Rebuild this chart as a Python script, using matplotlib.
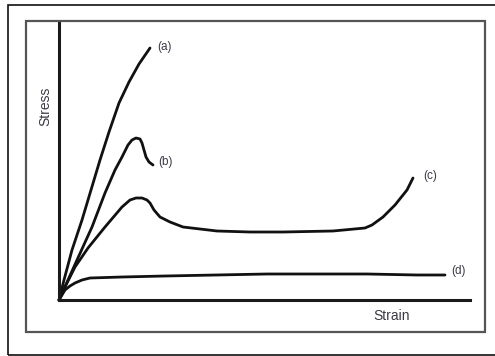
import matplotlib
matplotlib.use("Agg")
import matplotlib.pyplot as plt
from matplotlib.patches import Rectangle

W, H = 495, 356

# Curve data (strain, stress) in arbitrary units
a_x = [0, 5, 13, 23, 32, 41, 50, 60, 70, 80, 91]
a_y = [0, 20, 50, 80, 110, 140, 168, 197, 218, 236, 252]

b_x = [0, 18, 33, 46, 56, 63, 69, 73, 77, 81, 83, 85, 87, 90, 94]
b_y = [0, 40, 73, 107, 130, 143, 155, 160, 162, 161, 157, 150, 143, 138, 135]

c_x = [0, 6, 16, 29, 46, 63, 71, 77, 83, 88, 91, 95, 101, 111, 124, 141, 158, 191,
       224, 274, 306, 313, 324, 336, 348, 354]
c_y = [0, 13, 33, 52, 73, 93, 100, 102, 102, 100, 97, 90, 83, 78, 73, 71, 69, 68,
       68, 69, 72, 75, 83, 95, 110, 122]

d_x = [0, 6, 11, 16, 23, 31, 63, 106, 208, 308, 358, 386]
d_y = [0, 10, 14, 17, 20, 22, 23, 24, 26, 26, 25, 25]

labels = ["(a)", "(b)", "(c)", "(d)"]
label_x = [98, 99, 364, 392]
label_y = [253, 138, 124, 29]

FONT = ["Liberation Sans", "DejaVu Sans"]
TXT = "#3a3a48"

fig = plt.figure(figsize=(W / 100, H / 100), dpi=100)

def px(x, y):
    return x / W, 1 - y / H

# outer frame
fig.patches.append(Rectangle(px(8, 355), (W - 8 + 5) / W, 350 / H, transform=fig.transFigure,
                             fill=False, edgecolor="#111111", linewidth=1.2))
# inner frame
fig.patches.append(Rectangle(px(26, 332), (485 - 26) / W, (332 - 21) / H, transform=fig.transFigure,
                             fill=False, edgecolor="#555555", linewidth=1.6))

ax = fig.add_axes([59 / W, 1 - 300 / H, 411 / W, 278 / H])
ax.set_xlim(0, 411)
ax.set_ylim(0, 278)
ax.patch.set_alpha(0)
for s in ["top", "right"]:
    ax.spines[s].set_visible(False)
for s in ["left", "bottom"]:
    ax.spines[s].set_linewidth(2.2)
    ax.spines[s].set_color("#1a1a1a")
ax.set_xticks([])
ax.set_yticks([])

for xs, ys in [(a_x, a_y), (b_x, b_y), (c_x, c_y), (d_x, d_y)]:
    ax.plot(xs, ys, color="#111111", linewidth=2.0, solid_capstyle="round",
            solid_joinstyle="round", clip_on=False)

for t, x, y in zip(labels, label_x, label_y):
    ax.text(x, y, t, fontsize=8.5, family=FONT, color=TXT, ha="left", va="center")

fig.text(*px(45, 106), "Stress", rotation=90, fontsize=10, family=FONT, color=TXT,
         ha="center", va="center")
fig.text(*px(392, 316), "Strain", fontsize=10, family=FONT, color=TXT, ha="center", va="center")

fig.savefig("out.png", dpi=100)
